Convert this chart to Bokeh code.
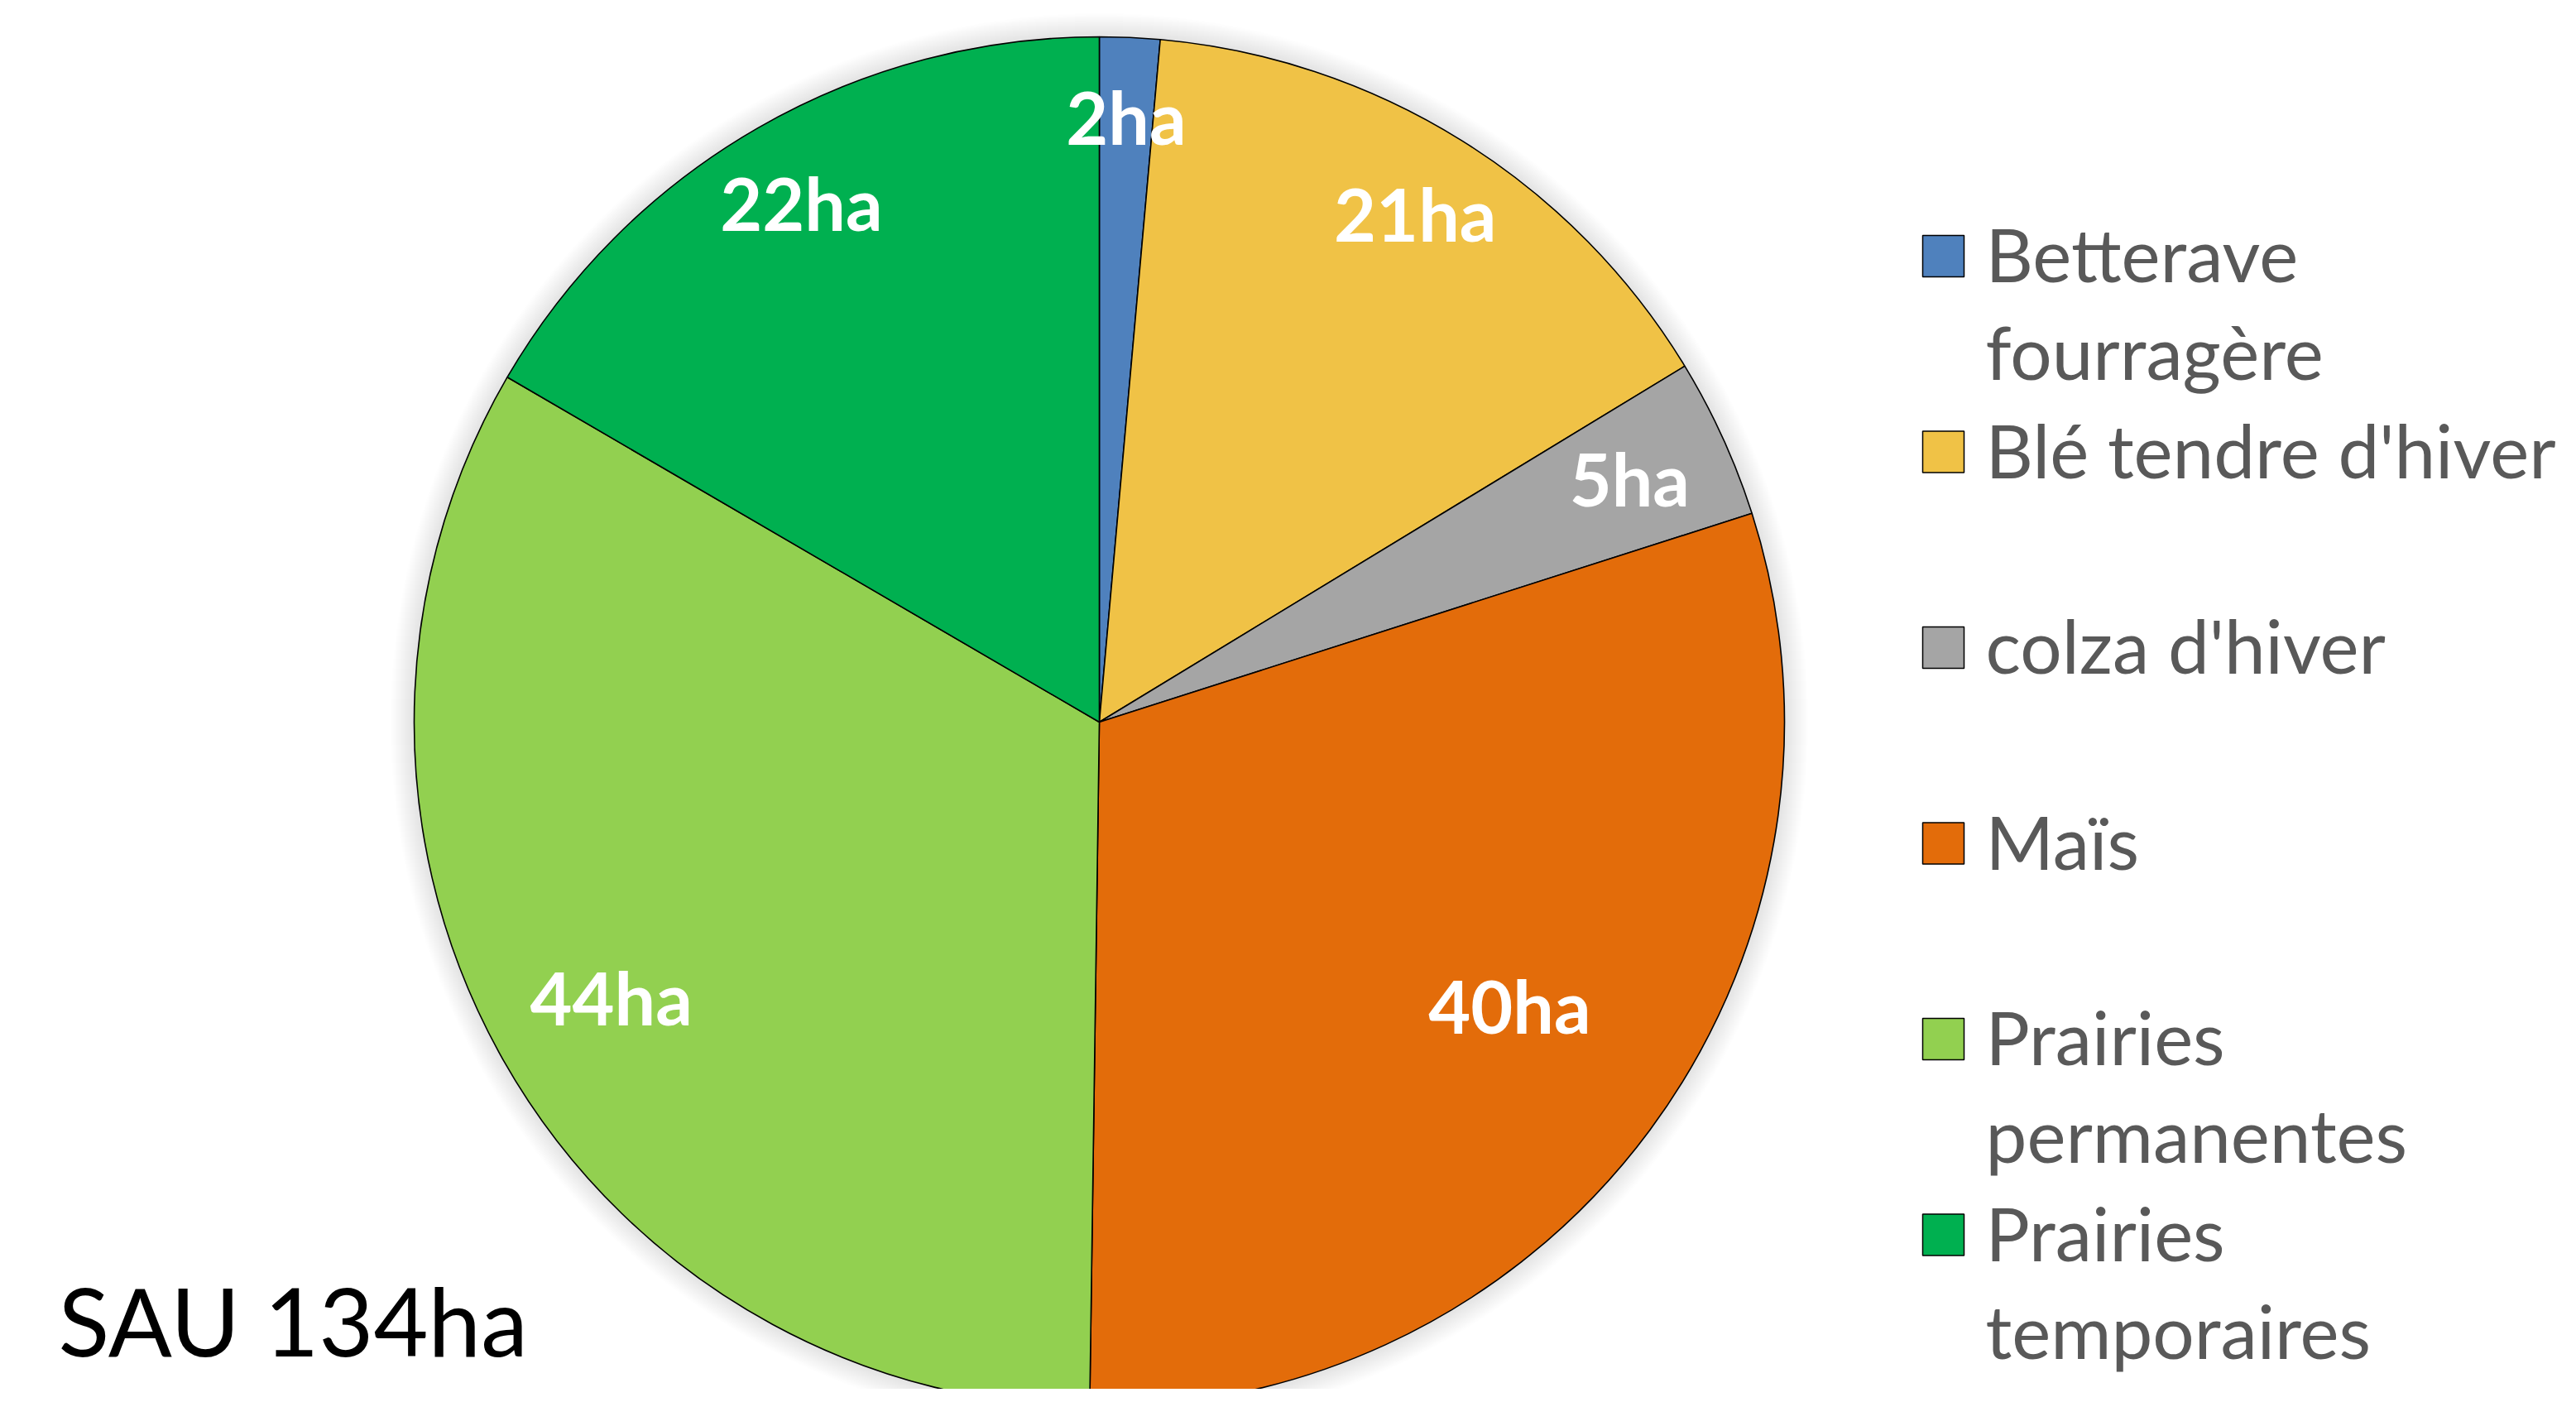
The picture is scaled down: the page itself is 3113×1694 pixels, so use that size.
import numpy as np
from bokeh.plotting import figure
from bokeh.models import ColumnDataSource, Range1d
from bokeh.core.properties import value
from bokeh.embed import file_html
from bokeh.resources import INLINE

# ---------------- data ----------------
categories = ["Betterave fourragère", "Blé tendre d'hiver", "colza d'hiver",
              "Maïs", "Prairies permanentes", "Prairies temporaires"]
legend_lines = [["Betterave", "fourragère"], ["Blé tendre d'hiver"], ["colza d'hiver"],
                ["Maïs"], ["Prairies", "permanentes"], ["Prairies", "temporaires"]]
# slice sizes (ha)
areas_ha = [1.9, 19.95, 5.05, 40.4, 44.45, 22.25]
# data labels as printed on the chart
slice_labels = ["2ha", "21ha", "5ha", "40ha", "44ha", "22ha"]
title_text = "SAU 134ha"

# ---------------- style ----------------
colors = ["#4F81BD", "#F0C246", "#A5A5A5", "#E36C0A", "#92D050", "#00B050"]
label_radius = [0.88, 0.87, 0.85, 0.73, 0.82, 0.87]
label_angle_shift_deg = [0.0, -0.1, -0.1, 1.66, 0.2, 0.1]
FONT = "Lato"
BASE_FIX = 0.39  # em correction for baseline placement

W, H = 3097, 1678
def X(rx):
    return rx
def Y(ry):
    return H - ry

cx, cy, R = X(1328), Y(872), 828

p = figure(width=W, height=H, x_range=Range1d(0, W), y_range=Range1d(0, H),
           output_backend="svg", toolbar_location=None, min_border=0)
p.axis.visible = False
p.grid.visible = False
p.outline_line_color = None
p.background_fill_color = "white"
p.border_fill_color = "white"

# soft glow/shadow around pie
for k in range(1, 30):
    p.circle(x=[cx], y=[cy], radius=R + k, fill_color="black", fill_alpha=0.0045,
             line_color=None)

vals = np.array(areas_ha, dtype=float)
total = vals.sum()
cum = np.concatenate([[0.0], np.cumsum(vals)])
start = np.pi / 2 - cum[:-1] / total * 2 * np.pi
end = np.pi / 2 - cum[1:] / total * 2 * np.pi
mid = (start + end) / 2

src = ColumnDataSource(dict(x=[cx] * len(vals), y=[cy] * len(vals), start=start, end=end,
                            color=colors, cat=categories))
p.wedge(x="x", y="y", radius=R, start_angle="start", end_angle="end", direction="clock",
        fill_color="color", line_color="black", line_width=1.6, source=src)

# data labels
lab_fs = 88
la = mid + np.radians(label_angle_shift_deg)
lr = np.array(label_radius) * R
lx = cx + lr * np.cos(la)
ly = cy + lr * np.sin(la) - 31 + BASE_FIX * lab_fs
lsrc = ColumnDataSource(dict(x=lx, y=ly, t=slice_labels))
p.text(x="x", y="y", text="t", source=lsrc, text_color="white",
       text_font=value(FONT), text_font_style="bold", text_font_size=f"{lab_fs}px",
       text_align="center", text_baseline="alphabetic")

# title
tit_fs = 114
p.text(x=[X(70)], y=[Y(1638) + BASE_FIX * tit_fs], text=[title_text],
       text_color="black", text_font=value(FONT), text_font_size=f"{tit_fs}px",
       text_align="left", text_baseline="alphabetic")

# legend
leg_fs = 89
slot, line_h = 236.5, 118
first_base = 341
sq = 50
sx, sy, tx, ty, tt = [], [], [], [], []
for i, lines in enumerate(legend_lines):
    base = first_base + i * slot
    sx.append(X(2323 + sq / 2))
    sy.append(Y(base - 32))
    for j, ln in enumerate(lines):
        tx.append(X(2399))
        ty.append(Y(base + j * line_h) + BASE_FIX * leg_fs)
        tt.append(ln)
p.rect(x=sx, y=sy, width=sq, height=sq, fill_color=colors, line_color="black", line_width=1.5)
p.text(x=tx, y=ty, text=tt, text_color="#595959", text_font=value(FONT),
       text_font_size=f"{leg_fs}px", text_align="left", text_baseline="alphabetic")

open("out.html", "w").write(file_html(p, INLINE))
